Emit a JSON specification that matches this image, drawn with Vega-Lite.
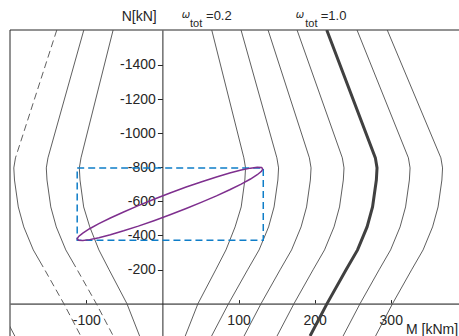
{
  "$schema": "https://vega.github.io/schema/vega-lite/v6.json",
  "width": 449,
  "height": 306,
  "autosize": {"type": "none"},
  "padding": {"left": 10, "top": 30, "right": 0, "bottom": 0},
  "background": "white",
  "config": {"view": {"stroke": null}, "font": "Liberation Sans"},
  "datasets": {
    "curves": [
      {"c": "R02", "N": -1605, "M": 64.8}, {"c": "R02", "N": -855, "M": 107.0}, {"c": "R02", "N": -796, "M": 109.2}, {"c": "R02", "N": -725, "M": 108.3}, {"c": "R02", "N": -567, "M": 103.5}, {"c": "R02", "N": -450, "M": 95.5}, {"c": "R02", "N": -315, "M": 83.5}, {"c": "R02", "N": -198, "M": 70.0}, {"c": "R02", "N": 0, "M": 46.7}, {"c": "R02", "N": 190, "M": 30.0},
      {"c": "R04", "N": -1605, "M": 103.3}, {"c": "R04", "N": -855, "M": 150.4}, {"c": "R04", "N": -796, "M": 152.6}, {"c": "R04", "N": -725, "M": 151.7}, {"c": "R04", "N": -567, "M": 146.7}, {"c": "R04", "N": -450, "M": 139.5}, {"c": "R04", "N": -315, "M": 127.0}, {"c": "R04", "N": -198, "M": 111.9}, {"c": "R04", "N": 0, "M": 86.9}, {"c": "R04", "N": 190, "M": 64.6},
      {"c": "R06", "N": -1605, "M": 138.8}, {"c": "R06", "N": -855, "M": 193.1}, {"c": "R06", "N": -796, "M": 195.3}, {"c": "R06", "N": -725, "M": 194.4}, {"c": "R06", "N": -567, "M": 189.4}, {"c": "R06", "N": -450, "M": 182.2}, {"c": "R06", "N": -315, "M": 169.7}, {"c": "R06", "N": -198, "M": 154.6}, {"c": "R06", "N": 0, "M": 129.6}, {"c": "R06", "N": 190, "M": 107.3},
      {"c": "R08", "N": -1605, "M": 176.9}, {"c": "R08", "N": -855, "M": 236.4}, {"c": "R08", "N": -796, "M": 238.6}, {"c": "R08", "N": -725, "M": 237.7}, {"c": "R08", "N": -567, "M": 232.7}, {"c": "R08", "N": -450, "M": 225.5}, {"c": "R08", "N": -315, "M": 213.0}, {"c": "R08", "N": -198, "M": 197.9}, {"c": "R08", "N": 0, "M": 172.9}, {"c": "R08", "N": 190, "M": 150.6},
      {"c": "R10", "N": -1605, "M": 215.9}, {"c": "R10", "N": -855, "M": 279.8}, {"c": "R10", "N": -796, "M": 282.0}, {"c": "R10", "N": -725, "M": 281.1}, {"c": "R10", "N": -567, "M": 276.1}, {"c": "R10", "N": -450, "M": 268.9}, {"c": "R10", "N": -315, "M": 256.4}, {"c": "R10", "N": -198, "M": 241.3}, {"c": "R10", "N": 0, "M": 216.3}, {"c": "R10", "N": 190, "M": 194.0},
      {"c": "R12", "N": -1605, "M": 255.7}, {"c": "R12", "N": -855, "M": 323.2}, {"c": "R12", "N": -796, "M": 325.4}, {"c": "R12", "N": -725, "M": 324.5}, {"c": "R12", "N": -567, "M": 319.5}, {"c": "R12", "N": -450, "M": 312.3}, {"c": "R12", "N": -315, "M": 299.8}, {"c": "R12", "N": -198, "M": 284.7}, {"c": "R12", "N": 0, "M": 259.7}, {"c": "R12", "N": 190, "M": 237.4},
      {"c": "R14", "N": -1605, "M": 295.4}, {"c": "R14", "N": -855, "M": 365.9}, {"c": "R14", "N": -796, "M": 368.1}, {"c": "R14", "N": -725, "M": 367.2}, {"c": "R14", "N": -567, "M": 362.2}, {"c": "R14", "N": -450, "M": 355.0}, {"c": "R14", "N": -315, "M": 342.5}, {"c": "R14", "N": -198, "M": 327.4}, {"c": "R14", "N": 0, "M": 302.4}, {"c": "R14", "N": 190, "M": 280.1},
      {"c": "L02", "N": -1605, "M": -64.8}, {"c": "L02", "N": -855, "M": -107.0}, {"c": "L02", "N": -796, "M": -109.2}, {"c": "L02", "N": -725, "M": -108.3}, {"c": "L02", "N": -567, "M": -103.5}, {"c": "L02", "N": -450, "M": -95.5}, {"c": "L02", "N": -315, "M": -83.5}, {"c": "L02", "N": -198, "M": -70.0}, {"c": "L02", "N": 0, "M": -46.7}, {"c": "L02", "N": 190, "M": -30.0},
      {"c": "L04a", "N": -1605, "M": -103.3}, {"c": "L04a", "N": -855, "M": -150.4}, {"c": "L04a", "N": -796, "M": -152.6}, {"c": "L04a", "N": -725, "M": -151.7}, {"c": "L04a", "N": -567, "M": -146.7}, {"c": "L04a", "N": -450, "M": -139.5}, {"c": "L04a", "N": -315, "M": -127.0}, {"c": "L04a", "N": -250, "M": -118.6},
      {"c": "L04b", "N": -250, "M": -118.6}, {"c": "L04b", "N": -198, "M": -111.9}, {"c": "L04b", "N": 0, "M": -86.9}, {"c": "L04b", "N": 190, "M": -64.6},
      {"c": "L06a", "N": -1605, "M": -138.8}, {"c": "L06a", "N": -855, "M": -193.1},
      {"c": "L06b", "N": -855, "M": -193.1}, {"c": "L06b", "N": -796, "M": -195.3}, {"c": "L06b", "N": -725, "M": -194.4}, {"c": "L06b", "N": -567, "M": -189.4}, {"c": "L06b", "N": -450, "M": -182.2}, {"c": "L06b", "N": -315, "M": -169.7}, {"c": "L06b", "N": -250, "M": -161.3},
      {"c": "L06c", "N": -250, "M": -161.3}, {"c": "L06c", "N": -198, "M": -154.6}, {"c": "L06c", "N": 0, "M": -129.6}, {"c": "L06c", "N": 190, "M": -107.3},
      {"c": "L10", "N": -198, "M": -241.3}, {"c": "L10", "N": 0, "M": -216.3}, {"c": "L10", "N": 190, "M": -194.0}
    ],
    "ellipse": [
      {"t": 0, "M": 132.0, "N": -790.3}, {"t": 10, "M": 130.1, "N": -798.3}, {"t": 20, "M": 124.6, "N": -799.8}, {"t": 30, "M": 115.7, "N": -794.7},
      {"t": 40, "M": 103.5, "N": -783.3}, {"t": 50, "M": 88.4, "N": -765.9}, {"t": 60, "M": 71.0, "N": -743.0}, {"t": 70, "M": 51.7, "N": -715.3},
      {"t": 80, "M": 31.2, "N": -683.6}, {"t": 90, "M": 10.0, "N": -648.9}, {"t": 100, "M": -11.2, "N": -612.3}, {"t": 110, "M": -31.7, "N": -574.9},
      {"t": 120, "M": -51.0, "N": -537.7}, {"t": 130, "M": -68.4, "N": -502.0}, {"t": 140, "M": -83.5, "N": -468.9}, {"t": 150, "M": -95.7, "N": -439.2},
      {"t": 160, "M": -104.6, "N": -413.9}, {"t": 170, "M": -110.1, "N": -394.0}, {"t": 180, "M": -112.0, "N": -379.7}, {"t": 190, "M": -110.1, "N": -371.7},
      {"t": 200, "M": -104.6, "N": -370.2}, {"t": 210, "M": -95.7, "N": -375.3}, {"t": 220, "M": -83.5, "N": -386.7}, {"t": 230, "M": -68.4, "N": -404.1},
      {"t": 240, "M": -51.0, "N": -427.0}, {"t": 250, "M": -31.7, "N": -454.7}, {"t": 260, "M": -11.2, "N": -486.4}, {"t": 270, "M": 10.0, "N": -521.1},
      {"t": 280, "M": 31.2, "N": -557.7}, {"t": 290, "M": 51.7, "N": -595.1}, {"t": 300, "M": 71.0, "N": -632.3}, {"t": 310, "M": 88.4, "N": -668.0},
      {"t": 320, "M": 103.5, "N": -701.1}, {"t": 330, "M": 115.7, "N": -730.8}, {"t": 340, "M": 124.6, "N": -756.0}, {"t": 350, "M": 130.1, "N": -776.0},
      {"t": 360, "M": 132.0, "N": -790.3}
    ],
    "frame": [
      {"edge": "top", "M": -200.3, "N": -1605, "M2": 389.7, "N2": -1605},
      {"edge": "left", "M": -200.3, "N": -1605, "M2": -200.3, "N2": 190}
    ]
  },
  "encoding": {
    "x": {"field": "M", "type": "quantitative", "scale": {"domain": [-200.3, 389.7], "nice": false, "zero": false},
      "axis": {"orient": "bottom", "offset": -32.4, "values": [-100, 100, 200, 300], "title": null, "grid": false,
        "labelExpr": "'' + datum.value",
        "tickSize": -4, "tickColor": "#262626", "labelPadding": 13.5, "labelFontSize": 14, "labelColor": "#262626",
        "labelFont": "Liberation Sans", "domainColor": "#777777", "domainWidth": 1.6, "labelFlush": false}},
    "y": {"field": "N", "type": "quantitative", "scale": {"domain": [-1605, 190], "reverse": true, "nice": false, "zero": false},
      "axis": {"orient": "left", "offset": -152.4, "values": [-1400, -1200, -1000, -800, -600, -400, -200], "title": null, "grid": false,
        "labelExpr": "'' + datum.value",
        "tickSize": 5, "tickColor": "#262626", "labelPadding": 2, "labelFontSize": 14, "labelColor": "#262626",
        "labelFont": "Liberation Sans", "domainColor": "#262626", "domainWidth": 1, "labelFlush": false}}
  },
  "layer": [
    {
      "data": {"name": "frame"},
      "mark": {"type": "rule", "color": "#262626", "strokeWidth": 1},
      "encoding": {"x2": {"field": "M2"}, "y2": {"field": "N2"}}
    },
    {
      "data": {"name": "curves"},
      "transform": [{"filter": {"not": {"field": "c", "oneOf": ["L04b", "L06a", "L06c", "R10"]}}}],
      "mark": {"type": "line", "color": "#4d4d4d", "strokeWidth": 0.9, "clip": true},
      "encoding": {
        "detail": {"field": "c", "type": "nominal"},
        "order": {"field": "N", "type": "quantitative"}
      }
    },
    {
      "data": {"name": "curves"},
      "transform": [{"filter": {"field": "c", "oneOf": ["L04b", "L06a", "L06c"]}}],
      "mark": {"type": "line", "color": "#4d4d4d", "strokeWidth": 0.9, "strokeDash": [7, 4], "clip": true},
      "encoding": {
        "detail": {"field": "c", "type": "nominal"},
        "order": {"field": "N", "type": "quantitative"}
      }
    },
    {
      "data": {"name": "curves"},
      "transform": [{"filter": {"field": "c", "equal": "R10"}}],
      "mark": {"type": "line", "color": "#404040", "strokeWidth": 3, "clip": true},
      "encoding": {
        "order": {"field": "N", "type": "quantitative"}
      }
    },
    {
      "data": {"values": [{"M": -112, "M2": 132.5, "N": -795, "N2": -372}]},
      "mark": {"type": "rect", "fillOpacity": 0, "stroke": "#0E7DC8", "strokeWidth": 1.5, "strokeDash": [7, 4]},
      "encoding": {
        "x2": {"field": "M2"},
        "y2": {"field": "N2"}
      }
    },
    {
      "data": {"name": "ellipse"},
      "mark": {"type": "line", "color": "#7E2F8E", "strokeWidth": 1.5},
      "encoding": {
        "order": {"field": "t", "type": "quantitative"}
      }
    },
    {
      "data": {"values": [{"txt": "N[kN]", "M": -53.5, "N": -1658}, {"txt": "M [kNm]", "M": 320.1, "N": 178}]},
      "mark": {"type": "text", "align": "left", "baseline": "alphabetic", "fontSize": 14, "color": "#262626", "font": "Liberation Sans"},
      "encoding": {"text": {"field": "txt"}}
    },
    {
      "data": {"values": [{"txt": "=0.2", "M": 57.3, "N": -1665}, {"txt": "=1.0", "M": 208.0, "N": -1665}]},
      "mark": {"type": "text", "align": "left", "baseline": "alphabetic", "fontSize": 13, "color": "#262626", "font": "Liberation Sans"},
      "encoding": {"text": {"field": "txt"}}
    },
    {
      "data": {"values": [{"txt": "tot", "M": 36.3, "N": -1625}, {"txt": "tot", "M": 187.7, "N": -1625}]},
      "mark": {"type": "text", "align": "left", "baseline": "alphabetic", "fontSize": 11, "color": "#262626", "font": "Liberation Sans"},
      "encoding": {"text": {"field": "txt"}}
    },
    {
      "data": {"values": [{"txt": "ω", "M": 25.4, "N": -1676}, {"txt": "ω", "M": 175.2, "N": -1676}]},
      "mark": {"type": "text", "align": "left", "baseline": "alphabetic", "fontSize": 10, "fontStyle": "italic", "color": "#262626", "font": "DejaVu Sans"},
      "encoding": {"text": {"field": "txt"}}
    }
  ]
}
